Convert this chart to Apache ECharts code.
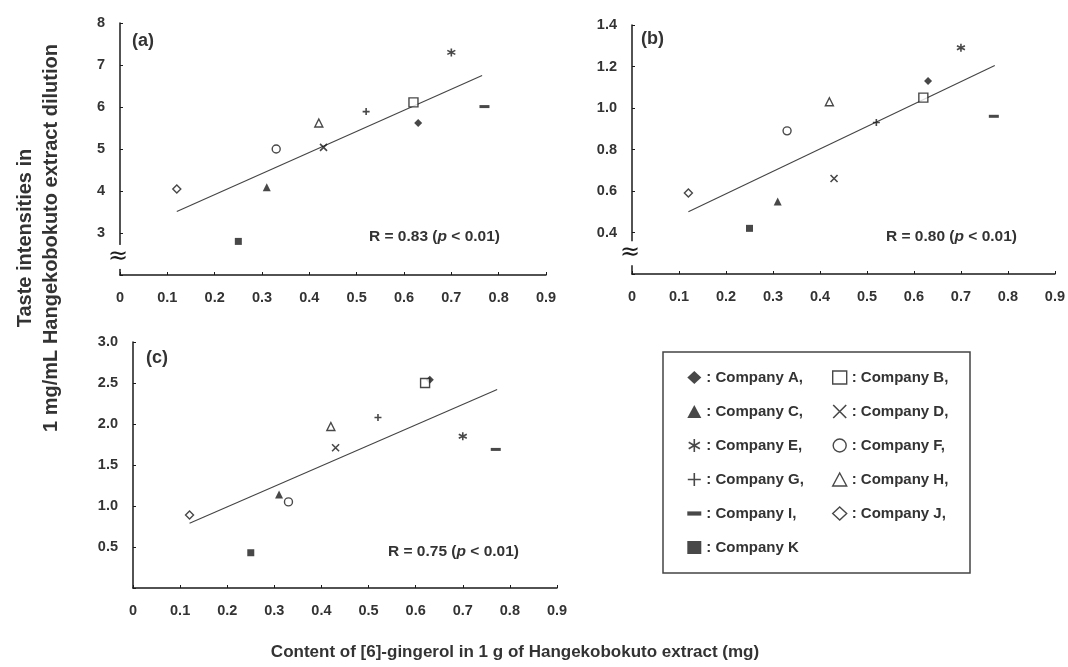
<!DOCTYPE html>
<html>
<head>
<meta charset="utf-8">
<script src="https://cdn.jsdelivr.net/npm/echarts@6/dist/echarts.min.js"></script>
<style>
html,body{margin:0;padding:0;background:#fff;}
#main{width:1068px;height:667px;}
</style>
</head>
<body>
<div id="main"></div>
<script>
// ---- data ----
const companies = ['Company A','Company B','Company C','Company D','Company E','Company F','Company G','Company H','Company I','Company J','Company K'];
const gingerol = [0.63, 0.62, 0.31, 0.43, 0.70, 0.33, 0.52, 0.42, 0.77, 0.12, 0.25];
const tasteA = [5.62, 6.11, 4.09, 5.04, 7.30, 5.00, 5.89, 5.62, 6.01, 4.05, 2.80];
const tasteB = [1.13, 1.05, 0.55, 0.66, 1.29, 0.89, 0.93, 1.03, 0.96, 0.59, 0.42];
const tasteC = [2.54, 2.50, 1.14, 1.71, 1.85, 1.05, 2.08, 1.97, 1.69, 0.89, 0.43];
const fitA = [[0.12, 3.51], [0.765, 6.75]];
const fitB = [[0.12, 0.50], [0.772, 1.205]];
const fitC = [[0.12, 0.79], [0.773, 2.42]];
const rTexts = ['0.83', '0.80', '0.75'];
const panelLabels = ['(a)', '(b)', '(c)'];

const INK = '#1a1a1a';
const TXT = '#333';
const FONT = '"Liberation Sans", Arial, sans-serif';

const symbolDefs = [
  {symbol: 'diamond', size: 8, fill: true},                          // A
  {symbol: 'rect', size: 9, fill: false},                            // B
  {symbol: 'triangle', size: 8, fill: true},                         // C
  {symbol: 'path://M0,0L10,10M10,0L0,10', size: 7, stroke: true},    // D
  {symbol: 'path://M5,0L5,10M0.7,2.5L9.3,7.5M9.3,2.5L0.7,7.5', size: 8, stroke: true}, // E
  {symbol: 'circle', size: 8, fill: false},                          // F
  {symbol: 'path://M5,0L5,10M0,5L10,5', size: 7, stroke: true},      // G
  {symbol: 'triangle', size: 8, fill: false},                        // H
  {symbol: 'path://M0,0L10,0L10,3L0,3Z', size: 10, fill: true, keep: true}, // I
  {symbol: 'diamond', size: 8, fill: false},                         // J
  {symbol: 'rect', size: 7, fill: true}                              // K
];

function itemStyleFor(d) {
  if (d.stroke) return {color: 'rgba(0,0,0,0)', borderColor: INK, borderWidth: 1.6};
  if (d.fill) return {color: INK, borderWidth: 0};
  return {color: '#fff', borderColor: INK, borderWidth: 1.4};
}

const grids = [
  {left: 120, top: 23, width: 426, height: 252},
  {left: 632, top: 25, width: 423, height: 249},
  {left: 133, top: 342, width: 424, height: 246}
];
const yRanges = [
  {min: 2, max: 8, interval: 1, dec: 0},
  {min: 0.2, max: 1.4, interval: 0.2, dec: 1},
  {min: 0, max: 3, interval: 0.5, dec: 1}
];
const tastes = [tasteA, tasteB, tasteC];
const fits = [fitA, fitB, fitC];

const xAxes = grids.map((g, i) => ({
  type: 'value', gridIndex: i, min: 0, max: 0.9, interval: 0.1,
  axisLine: {lineStyle: {color: INK, width: 1.5}},
  axisTick: {inside: true, length: 3, lineStyle: {color: INK}},
  splitLine: {show: false},
  axisLabel: {
    color: TXT, fontFamily: FONT, fontWeight: 'bold', fontSize: 14.5, margin: 15,
    formatter: v => (Math.abs(v) < 1e-9 ? '0' : v.toFixed(1))
  }
}));
const yAxes = yRanges.map((r, i) => ({
  type: 'value', gridIndex: i, min: r.min, max: r.max, interval: r.interval,
  axisLine: {show: true, lineStyle: {color: INK, width: 1.5}},
  axisTick: {show: true, inside: true, length: 3, lineStyle: {color: INK}},
  splitLine: {show: false},
  axisLabel: {
    color: TXT, fontFamily: FONT, fontWeight: 'bold', fontSize: 14.5, margin: 15,
    formatter: v => (Math.abs(v - r.min) < 1e-9 ? '' : v.toFixed(r.dec))
  }
}));

const series = [];
tastes.forEach((arr, gi) => {
  companies.forEach((name, ci) => {
    const d = symbolDefs[ci];
    series.push({
      type: 'scatter', name: name, xAxisIndex: gi, yAxisIndex: gi,
      symbol: d.symbol, symbolSize: d.size, symbolKeepAspect: !!d.keep,
      itemStyle: itemStyleFor(d),
      data: [[gingerol[ci], arr[ci]]],
      z: 3
    });
  });
  series.push({
    type: 'line', name: 'fit' + gi, xAxisIndex: gi, yAxisIndex: gi,
    data: fits[gi], showSymbol: false, symbol: 'none',
    lineStyle: {color: '#444', width: 1.1}, z: 2, silent: true
  });
});

function legendData(idxs) {
  return idxs.map(ci => {
    const d = symbolDefs[ci];
    return {name: companies[ci], icon: d.symbol, itemStyle: itemStyleFor(d)};
  });
}
const legendCommon = {
  orient: 'vertical', itemWidth: 14, itemHeight: 13, itemGap: 19,
  selectedMode: false, symbolKeepAspect: true,
  textStyle: {color: TXT, fontFamily: FONT, fontWeight: 'bold', fontSize: 15},
  formatter: n => ': ' + n + (n === 'Company K' ? '' : ',')
};

const chart = echarts.init(document.getElementById('main'), null, {renderer: 'canvas'});
chart.setOption({
  backgroundColor: '#fff',
  animation: false,
  grid: grids,
  xAxis: xAxes,
  yAxis: yAxes,
  legend: [
    Object.assign({left: 682, top: 365, data: legendData([0, 2, 4, 6, 8, 10])}, legendCommon),
    Object.assign({left: 827, top: 365, data: legendData([1, 3, 5, 7, 9])}, legendCommon)
  ],
  series: series
});

// annotations (text, legend frame, axis break marks)
const graphics = [];
const labelPos = [[132, 32], [641, 30], [146, 349]];
panelLabels.forEach((t, i) => {
  graphics.push({type: 'text', left: labelPos[i][0], top: labelPos[i][1],
    style: {text: t, font: 'bold 18px ' + FONT, fill: TXT}});
});
const rPos = [[369, 229], [886, 229], [388, 544]];
rTexts.forEach((r, i) => {
  graphics.push({type: 'text', left: rPos[i][0], top: rPos[i][1],
    style: {
      text: '{n|R = ' + r + ' (}{i|p}{n| < 0.01)}',
      rich: {
        n: {font: 'bold 15.5px ' + FONT, fill: TXT, color: TXT},
        i: {font: 'italic bold 15.5px ' + FONT, fill: TXT, color: TXT}
      }
    }});
});
graphics.push({type: 'rect', shape: {x: 663, y: 352, width: 307, height: 221},
  style: {fill: 'none', stroke: '#444', lineWidth: 1.5}, z: 0});
graphics.push({type: 'text', x: 515, y: 652,
  style: {text: 'Content of [6]-gingerol in 1 g of Hangekobokuto extract (mg)', font: 'bold 17px ' + FONT,
    fill: TXT, align: 'center', verticalAlign: 'middle'}});
graphics.push({type: 'text', x: 38, y: 238, rotation: Math.PI / 2,
  style: {text: 'Taste intensities in\n1 mg/mL Hangekobokuto extract dilution', font: 'bold 20px ' + FONT,
    fill: TXT, align: 'center', verticalAlign: 'middle', lineHeight: 26}});

// axis break marks for panels (a) and (b)
const breakVals = [2.43, 0.30];
breakVals.forEach((v, i) => {
  const p = chart.convertToPixel({xAxisIndex: i, yAxisIndex: i}, [0, v]);
  graphics.push({type: 'text', x: p[0] - 2, y: p[1],
    style: {text: '≈', font: '24px "DejaVu Sans", sans-serif', fill: INK, align: 'center', verticalAlign: 'middle',
      backgroundColor: '#fff'}, z: 10});
});
chart.setOption({graphic: graphics});
</script>
</body>
</html>
